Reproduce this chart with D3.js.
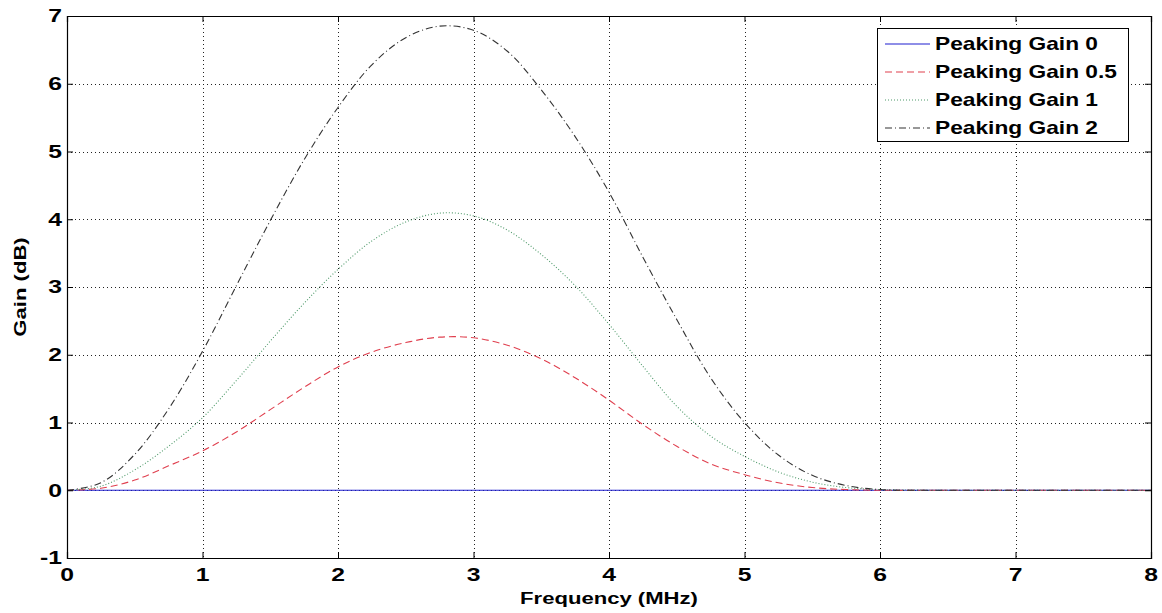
<!DOCTYPE html>
<html>
<head>
<meta charset="utf-8">
<script src="https://cdn.jsdelivr.net/npm/d3@7"></script>
<style>
    body { margin: 0; background: #fff; }
    text { font-family: 'Liberation Sans', Arial, sans-serif; font-weight: bold; fill: #000; }
</style>
</head>
<body>
<svg id="chart"></svg>
<script>
const freq   = [0, 0.25, 0.5, 0.75, 1, 1.25, 1.5, 1.75, 2, 2.25, 2.5, 2.75, 3, 3.25, 3.5, 3.75, 4, 4.25, 4.5, 4.75, 5, 5.25, 5.5, 5.75, 6, 6.5, 7, 8];
const gain0  = freq.map(() => 0);
const gain05 = [0, 0.03, 0.15, 0.36, 0.58, 0.86, 1.19, 1.52, 1.82, 2.04, 2.18, 2.26, 2.25, 2.14, 1.94, 1.66, 1.33, 0.97, 0.65, 0.39, 0.23, 0.11, 0.04, 0.01, 0, 0, 0, 0];
const gain1  = [0, 0.06, 0.30, 0.65, 1.07, 1.62, 2.20, 2.76, 3.26, 3.68, 3.96, 4.09, 4.05, 3.84, 3.48, 3.02, 2.45, 1.83, 1.24, 0.80, 0.50, 0.27, 0.12, 0.04, 0.01, 0, 0, 0];
const gain2  = [0, 0.11, 0.53, 1.20, 2.05, 3.02, 3.98, 4.88, 5.65, 6.28, 6.68, 6.85, 6.79, 6.48, 5.91, 5.22, 4.40, 3.44, 2.52, 1.66, 1.00, 0.52, 0.22, 0.07, 0.01, 0, 0, 0];

const seriesNames = ['Peaking Gain 0', 'Peaking Gain 0.5', 'Peaking Gain 1', 'Peaking Gain 2'];
const xTicks = [0, 1, 2, 3, 4, 5, 6, 7, 8];
const yTicks = [-1, 0, 1, 2, 3, 4, 5, 6, 7];

const width = 1162;
const height = 613;
const margin = { top: 16, right: 11, bottom: 55, left: 67 };
const stretch = 1.3;   // the original figure is stretched sideways

const styles = [
    { color: '#1f1fcf', dash: null },
    { color: '#e0404f', dash: '7,4' },
    { color: '#4f9a6a', dash: '1,2' },
    { color: '#333333', dash: '7,3,1,3' },
];

const svg = d3.select('#chart')
    .attr('width', width)
    .attr('height', height);

svg.append('rect').attr('width', width).attr('height', height).attr('fill', '#fff');

const x = d3.scaleLinear().domain([0, 8]).range([margin.left, width - margin.right]);
const y = d3.scaleLinear().domain([-1, 7]).range([height - margin.bottom, margin.top]);

const label = (g, tx, ty, str, size, anchor, rotate) => g.append('text')
    .attr('transform', `translate(${tx},${ty})` + (rotate ? ` rotate(${rotate})` : '') + ` scale(${stretch},1)`)
    .attr('text-anchor', anchor)
    .attr('dominant-baseline', 'central')
    .style('font-size', size + 'px')
    .text(str);

// grid
const grid = svg.append('g')
    .attr('stroke', '#222')
    .attr('stroke-width', 1)
    .attr('stroke-dasharray', '1,3');
grid.selectAll('.gx').data(xTicks.slice(1, -1)).enter().append('line')
    .attr('x1', d => Math.round(x(d)) + 0.5).attr('x2', d => Math.round(x(d)) + 0.5)
    .attr('y1', y(7)).attr('y2', y(-1));
grid.selectAll('.gy').data(yTicks.slice(1, -1)).enter().append('line')
    .attr('y1', d => Math.round(y(d)) + 0.5).attr('y2', d => Math.round(y(d)) + 0.5)
    .attr('x1', x(0)).attr('x2', x(8));

// curves
const allSeries = [gain0, gain05, gain1, gain2];
const line = d3.line()
    .x((d, i) => x(freq[i]))
    .y(d => y(d))
    .curve(d3.curveCatmullRom.alpha(0.5));

svg.append('g').selectAll('path')
    .data(allSeries)
    .enter().append('path')
    .attr('d', d => line(d))
    .attr('fill', 'none')
    .attr('stroke', (d, i) => styles[i].color)
    .attr('stroke-width', 1.1)
    .attr('stroke-dasharray', (d, i) => styles[i].dash);

// axes, ticks inside on all sides
const axisG = svg.append('g');
axisG.append('g')
    .attr('transform', `translate(0,${y(-1)})`)
    .call(d3.axisBottom(x).tickValues(xTicks).tickSize(-6).tickFormat(''));
axisG.append('g')
    .attr('transform', `translate(0,${y(7)})`)
    .call(d3.axisTop(x).tickValues(xTicks).tickSize(-6).tickFormat(''));
axisG.append('g')
    .attr('transform', `translate(${x(0)},0)`)
    .call(d3.axisLeft(y).tickValues(yTicks).tickSize(-6).tickFormat(''));
axisG.append('g')
    .attr('transform', `translate(${x(8)},0)`)
    .call(d3.axisRight(y).tickValues(yTicks).tickSize(-6).tickFormat(''));
axisG.selectAll('.domain').attr('stroke', '#000').attr('stroke-width', 1.2);
axisG.selectAll('.tick line').attr('stroke', '#000');

// tick labels
const labels = svg.append('g');
xTicks.forEach(t => label(labels, x(t), y(-1) + 17, t, 19, 'middle'));
yTicks.forEach(t => label(labels, x(0) - 5, y(t), t, 19, 'end'));

label(labels, (x(0) + x(8)) / 2, 598, 'Frequency (MHz)', 17, 'middle');
label(labels, 20, (y(-1) + y(7)) / 2, 'Gain (dB)', 17, 'middle', -90);

// legend
const legend = svg.append('g');
legend.append('rect')
    .attr('x', 877.5).attr('y', 28.5)
    .attr('width', 251).attr('height', 113)
    .attr('fill', '#fff').attr('stroke', '#000').attr('stroke-width', 1);
seriesNames.forEach((name, i) => {
    const ly = 44 + i * 28;
    legend.append('line')
        .attr('x1', 885).attr('x2', 930)
        .attr('y1', ly).attr('y2', ly)
        .attr('stroke', styles[i].color)
        .attr('stroke-width', 1.1)
        .attr('stroke-dasharray', styles[i].dash);
    label(legend, 935, ly, name, 17.5, 'start');
});
</script>
</body>
</html>
